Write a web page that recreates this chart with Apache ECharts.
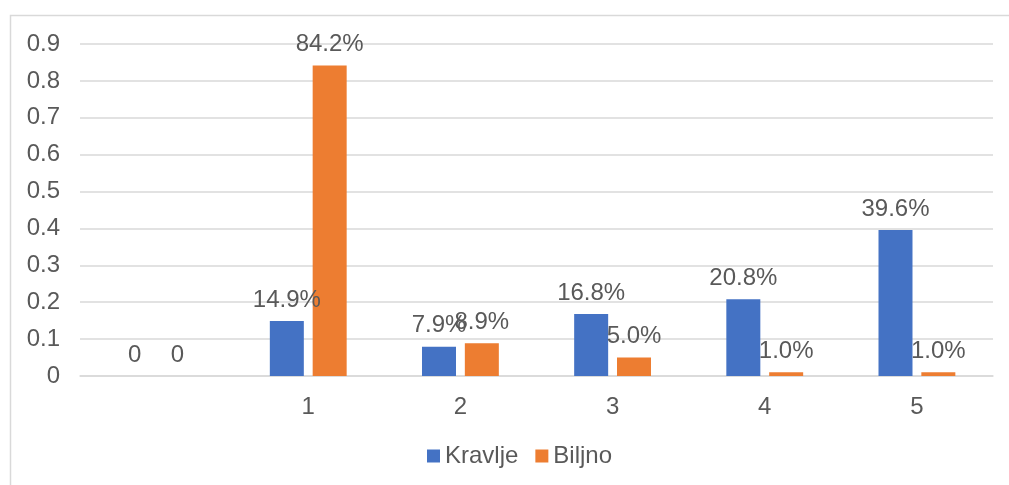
<!DOCTYPE html>
<html>
<head>
<meta charset="utf-8">
<script src="https://cdn.jsdelivr.net/npm/echarts@6/dist/echarts.min.js"></script>
<style>
html,body{margin:0;padding:0;background:#fff;}
#chart{width:1009px;height:485px;}
</style>
</head>
<body>
<div id="chart"></div>
<script>
const categories = ['', '1', '2', '3', '4', '5'];
const kravlje = [0, 0.149, 0.079, 0.168, 0.208, 0.396];
const biljno = [0, 0.842, 0.089, 0.050, 0.010, 0.010];
const seriesNames = ['Kravlje', 'Biljno'];

const FONT = '"Liberation Sans", Arial, sans-serif';
const TXT = '#595959';
function fmt(p) {
  return p.value === 0 ? '0' : (p.value * 100).toFixed(1) + '%';
}
const labelCfg = {
  show: true, position: 'top', distance: 9,
  formatter: fmt, color: TXT, fontSize: 24, fontFamily: FONT
};
const chart = echarts.init(document.getElementById('chart'), null, {renderer: 'canvas'});
chart.setOption({
  animation: false,
  backgroundColor: '#fff',
  graphic: [{
    type: 'rect', left: 8, top: 13, silent: true, z: -10,
    shape: {x: 0, y: 0, width: 1010, height: 480},
    style: {fill: 'none', stroke: '#d9d9d9', lineWidth: 1.5}
  }],
  grid: {left: 80, right: 16, top: 44, bottom: 109, containLabel: false},
  legend: {
    bottom: 12, left: 422,
    itemWidth: 13, itemHeight: 13, itemGap: 17,
    icon: 'rect',
    textStyle: {color: TXT, fontSize: 24, fontFamily: FONT},
    data: seriesNames
  },
  xAxis: {
    type: 'category', data: categories,
    axisLine: {show: true, lineStyle: {color: '#d9d9d9', width: 1.5}},
    axisTick: {show: false},
    axisLabel: {color: TXT, fontSize: 24, fontFamily: FONT, margin: 19}
  },
  yAxis: {
    type: 'value', min: 0, max: 0.9, interval: 0.1,
    axisLine: {show: false}, axisTick: {show: false},
    splitLine: {lineStyle: {color: '#d9d9d9', width: 1.5}},
    axisLabel: {
      color: TXT, fontSize: 24, fontFamily: FONT, margin: 20,
      formatter: v => v === 0 ? '0' : v.toFixed(1)
    }
  },
  series: [
    {name: seriesNames[0], type: 'bar', data: kravlje, barWidth: 34, barGap: '26%',
     itemStyle: {color: '#4472C4'}, label: labelCfg},
    {name: seriesNames[1], type: 'bar', data: biljno, barWidth: 34, barGap: '26%',
     itemStyle: {color: '#ED7D31'}, label: labelCfg}
  ]
});
</script>
</body>
</html>
